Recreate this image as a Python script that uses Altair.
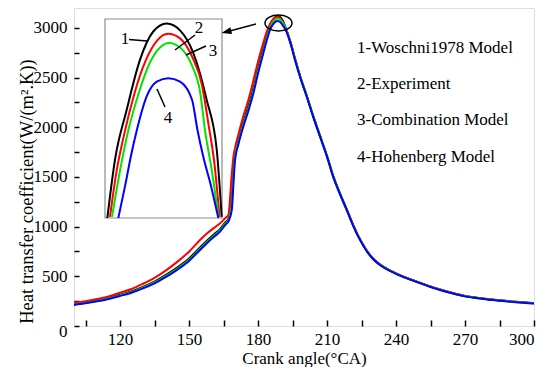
import altair as alt
import pandas as pd

# ---------------- main curves (crank angle, heat transfer coefficient) ----------------
angle = [100, 105, 110, 115, 120, 125, 130, 135, 140, 145, 150, 155, 158, 161, 163.5,
         165.7, 167.1, 168.6, 169.3, 170, 171.5, 173.6, 176, 178, 180, 182.3, 184,
         185.2, 186.5, 187.5, 188.5, 189.5, 190.5, 192.5, 194.3, 196.1, 198.5, 201.2,
         204, 207, 210, 212.7, 215.5, 218.6, 221, 223.6, 225.5, 227.3, 230, 233, 236.5,
         240, 245, 250, 256, 263, 270, 278, 285, 292, 300]

woschni = [222, 238, 258, 283, 314, 348, 393, 447, 514, 590, 680, 795, 862, 925, 975,
           1040, 1075, 1300, 1560, 1730, 1870, 2050, 2225, 2390, 2590, 2790, 2930,
           3020, 3080, 3108, 3120, 3112, 3085, 2968, 2842, 2688, 2500, 2316,
           2114, 1913, 1712, 1510, 1342, 1174, 1037, 905, 826, 758, 680, 620, 570,
           530, 481, 438, 389, 342, 301, 275, 258, 243, 230]

experiment = [234, 250, 272, 298, 335, 372, 425, 485, 560, 648, 748, 870, 935, 990, 1033,
              1084, 1115, 1530, 1700, 1790, 1930, 2110, 2290, 2470, 2660, 2850, 2975,
              3040, 3085, 3105, 3110, 3100, 3070, 2972, 2845, 2690, 2500, 2314,
              2110, 1908, 1706, 1503, 1337, 1170, 1034, 903, 824, 756, 678, 618, 569,
              530, 481, 439, 390, 343, 302, 276, 259, 244, 231]

combination = [216, 232, 252, 277, 308, 341, 385, 438, 504, 578, 666, 782, 850, 912, 962,
               1028, 1062, 1230, 1490, 1700, 1850, 2028, 2200, 2365, 2565, 2765, 2910,
               3000, 3060, 3085, 3095, 3088, 3060, 2962, 2836, 2683, 2495, 2311,
               2108, 1907, 1706, 1503, 1336, 1168, 1032, 901, 822, 754, 676, 616, 567,
               527, 479, 436, 387, 340, 300, 274, 257, 242, 229]

hohenberg = [212, 228, 248, 272, 302, 335, 378, 430, 495, 568, 655, 770, 838, 900, 949,
             1016, 1050, 1167, 1420, 1670, 1830, 2006, 2180, 2342, 2540, 2744, 2890,
             2979, 3035, 3060, 3070, 3062, 3035, 2955, 2830, 2677, 2490, 2307,
             2105, 1905, 1705, 1502, 1335, 1167, 1030, 899, 820, 752, 674, 614, 565,
             525, 477, 434, 385, 338, 298, 272, 255, 240, 227]

# ---------------- inset (zoom of the peak) ----------------
woschni_in_a = [183.66, 184.18, 184.98, 185.89, 186.80, 187.72, 188.63, 189.54, 190.45, 191.14, 191.48]
woschni_in_v = [2950, 3001, 3045, 3089, 3114, 3121, 3115, 3095, 3054, 3010, 2951]

experiment_in_a = [183.84, 184.25, 184.80, 185.48, 186.30, 187.06, 187.81, 188.63, 189.45, 190.13, 190.58, 190.99, 191.33]
experiment_in_v = [2951, 2988, 3023, 3058, 3089, 3106, 3112, 3108, 3092, 3067, 3032, 2997, 2951]

combination_in_a = [183.98, 184.53, 185.09, 185.76, 186.58, 187.26, 187.88, 188.63, 189.45, 190.00, 190.34, 190.85, 191.26]
combination_in_v = [2951, 2992, 3027, 3058, 3087, 3100, 3104, 3100, 3084, 3061, 3027, 2988, 2951]

hohenberg_in_a = [184.41, 184.87, 185.28, 185.67, 186.35, 187.04, 187.83, 188.63, 189.45, 189.83, 190.20, 190.75, 191.25]
hohenberg_in_v = [2950, 2978, 3005, 3027, 3057, 3070, 3073, 3070, 3054, 3027, 3005, 2978, 2950]

inset_domain_a = [183.5, 191.5]
inset_domain_v = [2950, 3125]
inset_box_x = [113.48, 164.35]   # where the inset sits, in main-axis units
inset_box_y = [1086.8, 3089.3]

series = ["1-Woschni1978 Model", "2-Experiment", "3-Combination Model", "4-Hohenberg Model"]
colors = ["#000000", "#ff0000", "#00e400", "#0000ff"]
main_values = [woschni, experiment, combination, hohenberg]
inset_values = [(woschni_in_a, woschni_in_v), (experiment_in_a, experiment_in_v),
                (combination_in_a, combination_in_v), (hohenberg_in_a, hohenberg_in_v)]

x_ticks = list(range(105, 301, 15))
y_ticks = list(range(0, 3001, 250))

FONT = "Liberation Serif"

x_scale = alt.Scale(domain=[100, 300], nice=False, zero=False)
y_scale = alt.Scale(domain=[0, 3200], nice=False, zero=False)

x_axis = alt.Axis(values=x_ticks, labelExpr="datum.value % 30 == 0 ? datum.label : ''",
                  title="Crank angle(°CA)", offset=-6, tickSize=6, domain=False, grid=False,
                  labelPadding=5, tickColor="black", tickWidth=1.5,
                  titleY=43.3, titleBaseline="alphabetic", titleFontWeight="normal",
                  titleFontSize=17, labelFontSize=17, labelFont=FONT, titleFont=FONT,
                  labelColor="black", titleColor="black", format="d")
y_axis = alt.Axis(values=y_ticks, labelExpr="datum.value % 500 == 0 ? datum.label : ''",
                  title="Heat transfer coefficient(W/(m².K))", offset=-5, tickSize=5,
                  domain=False, grid=False, labelPadding=7, tickColor="black", tickWidth=1.5,
                  labelOffset={"condition": {"test": "datum.value == 0", "value": 5}, "value": 0},
                  titleX=-47, titleY=183, titleAngle=270, titleAlign="center",
                  titleBaseline="alphabetic", titleFontWeight="normal",
                  titleFontSize=18.5, labelFontSize=17, labelFont=FONT, titleFont=FONT,
                  labelColor="black", titleColor="black", format="d")

layers = []
for name, col, vals in zip(series, colors, main_values):
    df = pd.DataFrame({"angle": angle, "h": vals})
    layers.append(
        alt.Chart(df).mark_line(color=col, strokeWidth=2, interpolate="monotone").encode(
            x=alt.X("angle:Q", scale=x_scale, axis=x_axis),
            y=alt.Y("h:Q", scale=y_scale, axis=y_axis),
        )
    )

# inset frame
box_df = pd.DataFrame({"x0": [inset_box_x[0]], "x1": [inset_box_x[1]],
                       "y0": [inset_box_y[0]], "y1": [inset_box_y[1]]})
layers.append(
    alt.Chart(box_df).mark_rect(fill="white", fillOpacity=0, stroke="#8c8c8c", strokeWidth=1.2).encode(
        x=alt.X("x0:Q", scale=x_scale, axis=x_axis), x2="x1:Q",
        y=alt.Y("y0:Q", scale=y_scale, axis=y_axis), y2="y1:Q",
    )
)

sx = (inset_box_x[1] - inset_box_x[0]) / (inset_domain_a[1] - inset_domain_a[0])
sy = (inset_box_y[1] - inset_box_y[0]) / (inset_domain_v[1] - inset_domain_v[0])
for col, (ia, iv) in zip(colors, inset_values):
    df = pd.DataFrame({"a": ia, "v": iv})
    layers.append(
        alt.Chart(df).mark_line(color=col, strokeWidth=2, interpolate="monotone").transform_calculate(
            mx=f"{inset_box_x[0]} + (datum.a - {inset_domain_a[0]}) * {sx}",
            my=f"{inset_box_y[0]} + (datum.v - {inset_domain_v[0]}) * {sy}",
        ).encode(
            x=alt.X("mx:Q", scale=x_scale, axis=x_axis),
            y=alt.Y("my:Q", scale=y_scale, axis=y_axis),
        )
    )

one = pd.DataFrame({"k": [0]})

# legend-like labels
for name, ypx in zip(series, [39.5, 76, 112, 149]):
    layers.append(
        alt.Chart(one).mark_text(text=name, font=FONT, fontSize=17, align="left",
                                 baseline="middle", color="black").encode(
            x=alt.value(283), y=alt.value(ypx))
    )

# inset number labels
for t, (px, py) in zip(["1", "2", "3", "4"], [(51, 31), (125, 19.5), (139, 42.5), (94, 110)]):
    layers.append(
        alt.Chart(one).mark_text(text=t, font=FONT, fontSize=17, align="center",
                                 baseline="middle", color="black").encode(
            x=alt.value(px), y=alt.value(py))
    )

# leader lines and arrow shaft
for (x1, y1, x2, y2) in [(55, 31.5, 73, 33), (121, 27, 101, 42), (132, 38, 112, 47),
                         (91, 99, 83, 81), (182, 16, 152, 24)]:
    layers.append(
        alt.Chart(one).mark_rule(color="black", strokeWidth=1.5).encode(
            x=alt.value(x1), y=alt.value(y1), x2=alt.value(x2), y2=alt.value(y2))
    )

# arrow head
layers.append(
    alt.Chart(one).mark_point(shape="M0,0 L0.35,1 L-0.35,1 Z", filled=True, color="black",
                              size=400, angle=256, opacity=1).encode(
        x=alt.value(147.5), y=alt.value(25))
)

# ellipse around the peak
layers.append(
    alt.Chart(one).mark_point(shape="M-1,0 A1,0.6 0 1,1 1,0 A1,0.6 0 1,1 -1,0 Z", filled=False,
                              color="black", strokeWidth=1.5, size=729, opacity=1).encode(
        x=alt.value(204.5), y=alt.value(15))
)

chart = alt.layer(*layers).properties(
    width=460, height=318,
    autosize=alt.AutoSizeParams(type="none"),
    padding={"left": 66, "top": 0, "right": 8, "bottom": 41},
).configure_view(stroke="black", strokeWidth=1.6).configure(background="white")

chart.save("out.html", embed_options={"renderer": "svg", "actions": False})
